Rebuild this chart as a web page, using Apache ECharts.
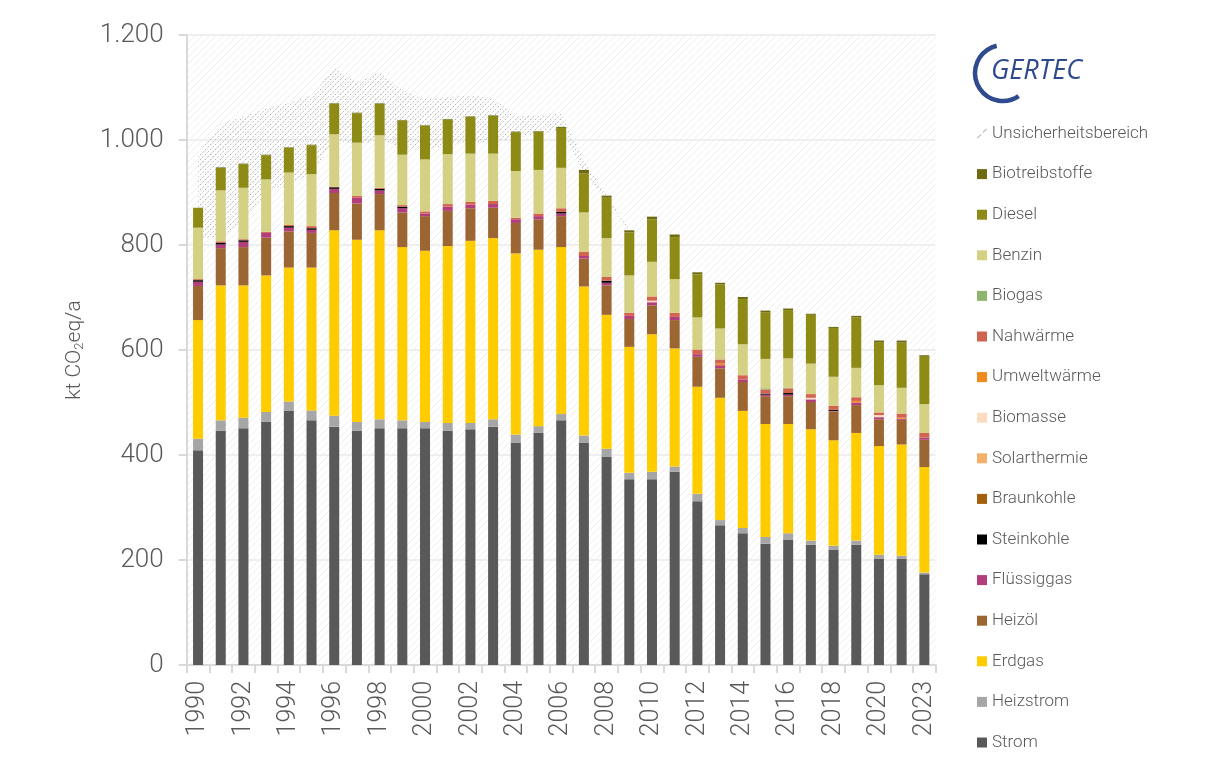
<!DOCTYPE html>
<html><head><meta charset="utf-8">
<script src="https://cdn.jsdelivr.net/npm/echarts@6/dist/echarts.min.js"></script>
<style>html,body{margin:0;padding:0;background:#fff}#c{width:1206px;height:757px}</style>
</head><body><div id="c"></div>
<script>
// ---- Daten (kt CO2eq/a) ----
const jahre = ['1990','1991','1992','1993','1994','1995','1996','1997','1998','1999','2000','2001','2002','2003','2004','2005','2006','2007','2008','2009','2010','2011','2012','2013','2014','2015','2016','2017','2018','2019','2020','2021','2023'];
const yTicks = [0, 200, 400, 600, 800, 1000, 1200];

const strom          = [409,446,451,463,485,466,454,446,451,451,451,446,449,454,424,442,466,424,397,354,354,368,312,266,251,231,238,229,220,229,203,203,173];
const heizstrom      = [22,20,20,19,17,19,21,17,17,15,12,15,12,14,15,13,12,13,15,12,14,10,14,10,10,13,13,8,7,8,7,5,3];
const erdgas         = [226,257,252,260,255,272,353,347,360,330,326,337,347,345,345,336,318,284,255,240,262,225,204,233,223,215,208,212,201,205,207,212,201];
const heizoel        = [65,71,73,72,69,66,71,69,69,66,66,67,62,58,58,58,59,53,56,53,55,54,57,56,55,53,53,52,55,53,51,47,52];
const fluessiggas    = [8,7,10,9,7,6,8,11,7,8,5,8,7,7,7,6,5,5,5,6,6,6,5,6,5,3,3,5,1,5,4,2,4];
const steinkohle     = [3,3,3,0,3,3,3,0,3,3,0,0,0,0,0,0,3,0,4,0,0,0,0,0,0,2,3,0,2,0,0,0,0];
const braunkohle     = [0,0,0,0,0,0,0,0,0,0,0,0,0,0,0,0,0,0,0,0,0,0,0,0,0,0,0,0,0,0,0,0,0];
const solarthermie   = [0,0,0,0,0,0,0,0,0,0,0,0,0,0,0,0,0,0,0,0,0,0,0,0,0,0,0,0,0,0,0,0,0];
const biomasse       = [0,0,0,0,0,0,0,0,0,0,0,0,0,0,0,0,0,0,0,0,3,0,0,0,0,0,0,3,0,0,4,0,0];
const umweltwaerme   = [0,0,0,0,0,0,0,0,0,0,0,0,0,0,0,0,0,0,0,0,0,0,0,3,0,0,0,0,0,3,0,2,0];
const nahwaerme      = [2,3,2,2,2,4,1,4,2,3,4,5,5,6,3,5,7,8,7,6,8,8,9,8,8,8,9,7,8,7,5,8,9];
const biogas         = [0,0,0,0,0,0,0,0,0,0,0,0,0,0,0,0,0,0,0,0,0,0,0,0,0,2,1,0,0,0,0,0,0];
const benzin         = [98,97,98,100,100,99,100,101,100,96,99,95,92,90,89,83,77,75,74,71,66,64,61,59,59,56,56,58,55,56,52,49,55];
const diesel         = [38,43,45,46,47,55,58,56,60,65,64,66,70,72,74,73,76,74,77,82,81,80,82,84,86,89,92,93,93,96,82,86,90];
const biotreibstoffe = [0,1,1,1,1,1,1,1,1,1,1,1,1,1,1,1,2,7,4,4,5,5,4,3,4,3,3,2,2,3,3,4,3];

// Unsicherheitsbereich: untere und obere Grenze
const unsicherUnten = [815,812,845,900,915,935,1000,990,1000,985,980,990,995,995,1005,1010,1020,935,885,826,'-','-','-','-','-','-','-','-','-','-','-','-','-'];
const unsicherOben  = [975,1030,1045,1060,1072,1085,1137,1110,1130,1095,1078,1082,1085,1080,1045,1047,1050,960,895,830,'-','-','-','-','-','-','-','-','-','-','-','-','-'];

const serien = [
  ['Strom', strom, '#595959'],
  ['Heizstrom', heizstrom, '#a6a6a6'],
  ['Erdgas', erdgas, '#ffcc00'],
  ['Heizöl', heizoel, '#9c6633'],
  ['Flüssiggas', fluessiggas, '#b23e7c'],
  ['Steinkohle', steinkohle, '#000000'],
  ['Braunkohle', braunkohle, '#a5600f'],
  ['Solarthermie', solarthermie, '#f2b06a'],
  ['Biomasse', biomasse, '#fbdcc0'],
  ['Umweltwärme', umweltwaerme, '#f08a1c'],
  ['Nahwärme', nahwaerme, '#d0644f'],
  ['Biogas', biogas, '#8db56e'],
  ['Benzin', benzin, '#d4d084'],
  ['Diesel', diesel, '#8d8b16'],
  ['Biotreibstoffe', biotreibstoffe, '#6e6a12']
];

function muster(size, color, lw, dash) {
  const c = document.createElement('canvas');
  c.width = size; c.height = size;
  const g = c.getContext('2d');
  g.strokeStyle = color; g.lineWidth = lw;
  if (dash) g.setLineDash(dash);
  for (const o of [-size, 0, size]) {
    g.beginPath(); g.moveTo(o, size); g.lineTo(o + size, 0); g.stroke();
  }
  return c;
}
const bandMuster = { image: muster(5, '#b4b4b4', 1, [1.8, 1.7]), repeat: 'repeat' };
const hgMuster = { image: muster(7, '#efefef', 1), repeat: 'repeat' };

const FONT = 'Roboto, "Liberation Sans", sans-serif';
const TXT = '#595959';

const series = [];
series.push({
  name: 'basis', type: 'line', stack: 'u', data: unsicherUnten, symbol: 'none',
  lineStyle: { width: 0, opacity: 0 }, silent: true, z: 1
});
series.push({
  name: 'Unsicherheitsbereich', type: 'line', stack: 'u',
  data: unsicherOben.map((v, i) => v === '-' ? '-' : v - unsicherUnten[i]),
  symbol: 'none', lineStyle: { width: 0, opacity: 0 },
  itemStyle: { color: '#aaaaaa' },
  areaStyle: { color: bandMuster, opacity: 1 }, z: 1
});
serien.forEach(([n, d, c]) => {
  series.push({ name: n, type: 'bar', stack: 'gesamt', data: d, barWidth: 10,
    itemStyle: { color: c }, z: 2 });
});

const legendData = [{ name: 'Unsicherheitsbereich',
  icon: 'path://M0,10L4,6L5,7L1,11Z M6,4L10,0L11,1L7,5Z',
  itemStyle: { color: '#c0c0c0' } }]
  .concat(serien.slice().reverse().map(s => ({ name: s[0], icon: 'rect' })));

const chart = echarts.init(document.getElementById('c'), null, { renderer: 'canvas' });
chart.setOption({
  animation: false,
  backgroundColor: '#ffffff',
  textStyle: { fontFamily: FONT },
  grid: { left: 186.7, right: 270.3, top: 35, bottom: 92, show: true,
    backgroundColor: hgMuster, borderWidth: 0 },
  legend: {
    orient: 'vertical', left: 977, top: 125, padding: 0, height: 640,
    itemWidth: 10, itemHeight: 10, itemGap: 23.6, selectedMode: false,
    textStyle: { fontFamily: FONT, fontSize: 17, fontWeight: 300, color: TXT, lineHeight: 17, padding: [0, 0, 0, 0] },
    data: legendData
  },
  xAxis: {
    type: 'category', data: jahre,
    axisLine: { lineStyle: { color: '#d9d9d9', width: 2 } },
    axisTick: { show: true, length: 8, interval: 0, lineStyle: { color: '#d9d9d9', width: 2 } },
    axisLabel: { rotate: 90, interval: 1, fontSize: 25, fontWeight: 300, color: TXT, margin: 16, fontFamily: FONT }
  },
  yAxis: {
    type: 'value', min: yTicks[0], max: yTicks[yTicks.length - 1], interval: 200,
    name: 'kt CO{s|2}eq/a', nameLocation: 'middle', nameGap: 100, nameRotate: 90,
    nameTextStyle: { fontSize: 21, fontWeight: 300, color: TXT, fontFamily: FONT,
      rich: { s: { fontSize: 13, fontWeight: 300, color: TXT, padding: [10, 0, 0, 0], fontFamily: FONT } } },
    axisLine: { show: true, lineStyle: { color: '#d9d9d9', width: 2 } },
    axisTick: { show: true, length: 8, lineStyle: { color: '#d9d9d9', width: 2 } },
    splitLine: { lineStyle: { color: '#efefef', width: 2 } },
    axisLabel: { fontSize: 26, fontWeight: 300, color: TXT, margin: 23, fontFamily: FONT,
      formatter: v => v >= 1000 ? String(v).replace(/(\d)(\d{3})$/, '$1.$2') : String(v) }
  },
  graphic: [
    { type: 'arc', shape: { cx: 1003, cy: 73, r: 28, startAngle: 56 * Math.PI / 180, endAngle: 257 * Math.PI / 180, clockwise: true },
      style: { stroke: '#2f4a8f', lineWidth: 4.5, fill: null } },
    { type: 'text', left: 991, top: 58,
      style: { text: 'GERTEC', fontSize: 27, fontStyle: 'italic', fontFamily: '"Open Sans", Roboto, sans-serif', fill: '#2f4a8f' } }
  ],
  series: series
});
</script></body></html>
